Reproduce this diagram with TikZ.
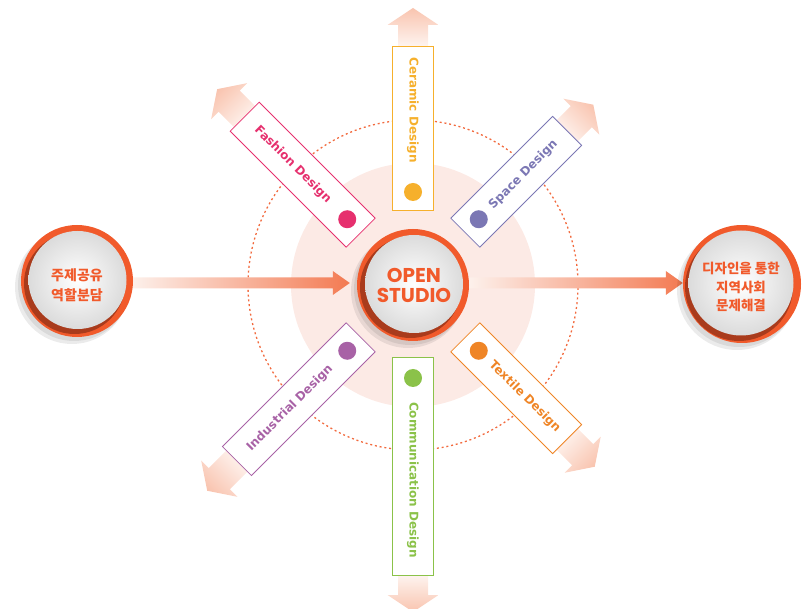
\documentclass[tikz,border=0pt]{standalone}
\usepackage{fontspec}
\setmainfont{Liberation Sans}
\newfontfamily\krfont{Noto Sans CJK KR}
\newfontfamily\popfont{Poppins}
\newfontfamily\cardfont{DejaVu Sans}
\usetikzlibrary{calc}
\definecolor{redo}{HTML}{F15A2B}
\definecolor{darkr}{HTML}{6E2210}
\definecolor{paledisc}{HTML}{FCEAE5}
\definecolor{dotc}{HTML}{F26A3E}
\definecolor{peach}{HTML}{F9C4AF}
\definecolor{palep}{HTML}{FEF5F1}
\definecolor{harrL}{HTML}{FDF2ED}
\definecolor{harrR}{HTML}{F37A52}
\definecolor{cCer}{HTML}{F6B02C}
\definecolor{cFas}{HTML}{E6306E}
\definecolor{cSpa}{HTML}{7B77B4}
\definecolor{cInd}{HTML}{A862A6}
\definecolor{cTex}{HTML}{EF8526}
\definecolor{cCom}{HTML}{8BC249}
\pgfdeclarelayer{bg}
\pgfdeclarelayer{arr}
\pgfsetlayers{bg,arr,main}
\tikzset{
  cardbox/.style={draw, fill=white, line width=0.8pt, minimum height=41, inner sep=0pt},
  carddot/.style={circle, minimum size=18, inner sep=0pt},
  cardtext/.style={font=\cardfont\bfseries\fontsize{12}{12}\selectfont, inner sep=0pt},
  ringnode/.style={circle, fill=redo, inner sep=0pt},
  krtext/.style={font=\krfont\bfseries, text=redo, align=center, inner sep=0pt},
  optext/.style={font=\popfont\bfseries\fontsize{20}{20}\selectfont, text=redo, align=center, inner sep=0pt},
}
\begin{document}
\begin{tikzpicture}[x=1pt,y=1pt]
\useasboundingbox (0,0) rectangle (811,608);
\coordinate (C) at (413,323);
\begin{pgfonlayer}{bg}
  \fill[paledisc] (C) circle (122);
  \draw[dotc, line width=1.3pt, dash pattern=on 2pt off 2.8pt] (C) circle (165);
\end{pgfonlayer}

% circles
\fill[black, opacity=0.08] (408,317) circle (57);
\fill[black, opacity=0.08] (410,319) circle (56);
\node[ringnode, minimum size=112] (open) at (C) {};
\fill[darkr, opacity=0.55] ($(open.center)+(-2.5,-2.5)$) circle (50.5);
\shade[inner color=white, outer color=black!14] ($(open.center)+(1,1)$) circle (49);
\node[optext] (opentxt) at ($(open.center)+(1,0)$) {OPEN\\STUDIO};

\fill[black, opacity=0.08] (72,321) circle (57);
\fill[black, opacity=0.08] (74,323) circle (56);
\node[ringnode, minimum size=112] (L) at (77,327) {};
\fill[darkr, opacity=0.55] ($(L.center)+(-2.5,-2.5)$) circle (50.5);
\shade[inner color=white, outer color=black!14] ($(L.center)+(0.5,1)$) circle (49);
\node[krtext, font=\krfont\bfseries\fontsize{14}{20}\selectfont] (Ltxt) at ($(L.center)+(0,-4)$) {주제공유\\역할분담};

\fill[black, opacity=0.08] (737,318) circle (60);
\fill[black, opacity=0.08] (739,320) circle (59);
\node[ringnode, minimum size=118] (R) at (742,324) {};
\fill[darkr, opacity=0.55] ($(R.center)+(-3,-3)$) circle (54);
\shade[inner color=white, outer color=black!14] ($(R.center)+(-1,1)$) circle (52.5);
\node[krtext, font=\krfont\bfseries\fontsize{13.5}{18.5}\selectfont] (Rtxt) at ($(R.center)+(-1,-3)$) {디자인을 통한\\지역사회\\문제해결};

% horizontal arrows
\begin{pgfonlayer}{arr}
  \coordinate (lt) at ($(open.west)+(-7,2)$);
  \coordinate (ls) at (L.east |- lt);
  \shade[left color=harrL, right color=harrR]
    ($(ls)+(-4,5.5)$) -- ($(lt)+(-17,5.5)$) -- ($(lt)+(-17,12)$) -- (lt)
    -- ($(lt)+(-17,-12)$) -- ($(lt)+(-17,-5.5)$) -- ($(ls)+(-4,-5.5)$) -- cycle;
  \coordinate (rt) at ($(R.west)+(0,1)$);
  \coordinate (rs) at (open.east |- rt);
  \shade[left color=harrL, right color=harrR]
    ($(rs)+(-2,5.5)$) -- ($(rt)+(-17,5.5)$) -- ($(rt)+(-17,12)$) -- (rt)
    -- ($(rt)+(-17,-12)$) -- ($(rt)+(-17,-5.5)$) -- ($(rs)+(-2,-5.5)$) -- cycle;
\end{pgfonlayer}

% cards
\foreach \nm/\ang/\dA/\dB/\hB/\tP/\tD/\tR/\col/\txt in {
  Cer/90/75/239/260/277/175/-90/cCer/Ceramic Design,
  Fas/135/74/238/260/277/170/-45/cFas/Fashion Design,
  Spa/45/74/218/238/255/156/45/cSpa/Space Design,
  Ind/225/74/249/274/291/174/45/cInd/Industrial Design,
  Tex/315/74/218/240/257/158/-45/cTex/Textile Design,
  Com/270/72/290/310/327/195/-90/cCom/Communication Design}{
  \pgfmathsetmacro\sa{\ang-90}
  \pgfmathsetmacro\ap{\ang+90}
  \pgfmathsetmacro\mid{(\dA+\dB)/2}
  \pgfmathsetmacro\len{\dB-\dA}
  \pgfmathsetmacro\sb{\dB-1}
  \coordinate (\nm p1) at ($(C)+(\ang:\sb)+(\ap:-15)$);
  \coordinate (\nm p2) at ($(C)+(\ang:\hB)+(\ap:-15)$);
  \coordinate (\nm p3) at ($(C)+(\ang:\hB)+(\ap:-25.5)$);
  \coordinate (\nm p4) at ($(C)+(\ang:\tP)$);
  \coordinate (\nm p5) at ($(C)+(\ang:\hB)+(\ap:25.5)$);
  \coordinate (\nm p6) at ($(C)+(\ang:\hB)+(\ap:15)$);
  \coordinate (\nm p7) at ($(C)+(\ang:\sb)+(\ap:15)$);
  \begin{pgfonlayer}{arr}
    \shade[top color=peach, bottom color=palep, shading angle=\sa]
      (\nm p1) -- (\nm p2) -- (\nm p3) -- (\nm p4) -- (\nm p5) -- (\nm p6) -- (\nm p7) -- cycle;
  \end{pgfonlayer}
  \node[cardbox, draw=\col, minimum width=\len, rotate=\ang] (\nm card) at ($(C)+(\ang:\mid)$) {};
  \node[carddot, fill=\col] (\nm dot) at ($(C)+(\ang:93)$) {};
  \node[cardtext, text=\col, rotate=\tR] (\nm txt) at ($(C)+(\ang:\tD)$) {\txt};
}
\end{tikzpicture}
\end{document}
